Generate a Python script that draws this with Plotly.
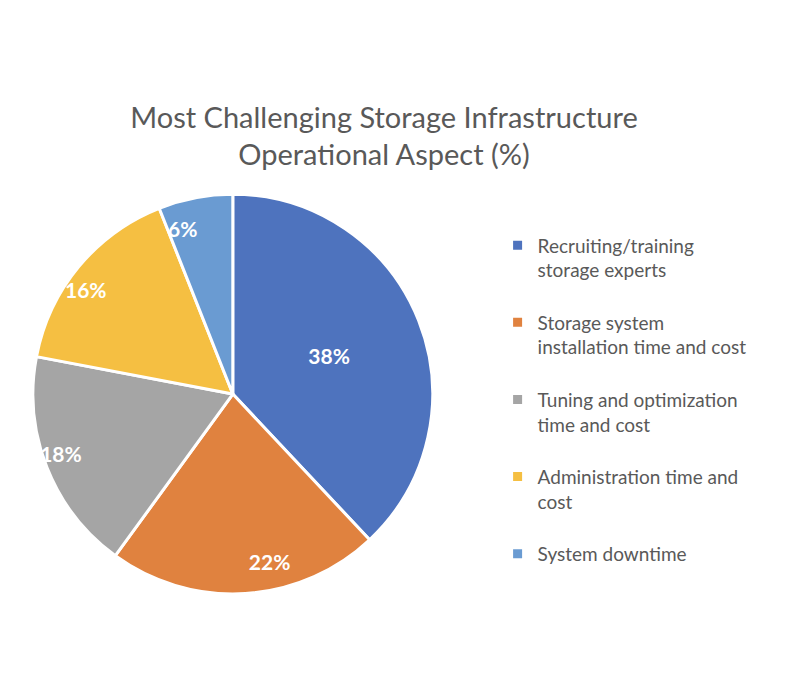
import plotly.graph_objects as go

categories = [
    "Recruiting/training<br>storage experts",
    "Storage system<br>installation time and cost",
    "Tuning and optimization<br>time and cost",
    "Administration time and<br>cost",
    "System downtime",
]
shares = [38, 22, 18, 16, 6]
colors = ["#4E73BE", "#E0823F", "#A5A5A5", "#F5BF42", "#6A9BD2"]

# a blank third line gives the gap between legend entries
legend_names = [c + "<br>\u00a0" if i < len(categories) - 1 else c
                for i, c in enumerate(categories)]

label_font = dict(family="Lato", size=21, color="white", weight="bold")

fig = go.Figure()

# main pie: slices, legend, and the label of the big slice
fig.add_trace(go.Pie(
    labels=legend_names,
    values=shares,
    sort=False,
    direction="clockwise",
    rotation=0,
    marker=dict(colors=colors, line=dict(color="white", width=3)),
    texttemplate="%{value}%",
    textposition=["inside", "none", "none", "none", "none"],
    insidetextorientation="horizontal",
    textfont=label_font,
    domain=dict(x=[0.031, 0.531], y=[0.163, 0.734]),
    hoverinfo="label+percent",
))

# transparent inner pie that places the other labels near the rim
fig.add_trace(go.Pie(
    labels=legend_names,
    values=shares,
    sort=False,
    direction="clockwise",
    rotation=0,
    marker=dict(colors=["rgba(0,0,0,0)"] * len(shares), line=dict(width=0)),
    texttemplate="%{value}%",
    textposition=["none", "outside", "outside", "outside", "outside"],
    textfont=label_font,
    outsidetextfont=label_font,
    domain=dict(x=[0.086, 0.476], y=[0.226, 0.671]),
    showlegend=False,
    hoverinfo="skip",
))

fig.update_layout(
    width=800,
    height=700,
    paper_bgcolor="white",
    plot_bgcolor="white",
    margin=dict(l=0, r=0, t=0, b=0),
    font=dict(family="Lato", color="#595959"),
    title=dict(
        text="Most Challenging Storage Infrastructure<br>Operational Aspect (%)",
        x=0.47, xanchor="center",
        y=0.829, yanchor="middle",
        font=dict(family="Lato", size=29, color="#595959"),
    ),
    legend=dict(
        x=0.612, xanchor="left",
        y=0.688, yanchor="top",
        valign="top",
        font=dict(family="Lato", size=19, color="#595959"),
        bgcolor="rgba(0,0,0,0)",
    ),
)

fig.write_html("out.html")
